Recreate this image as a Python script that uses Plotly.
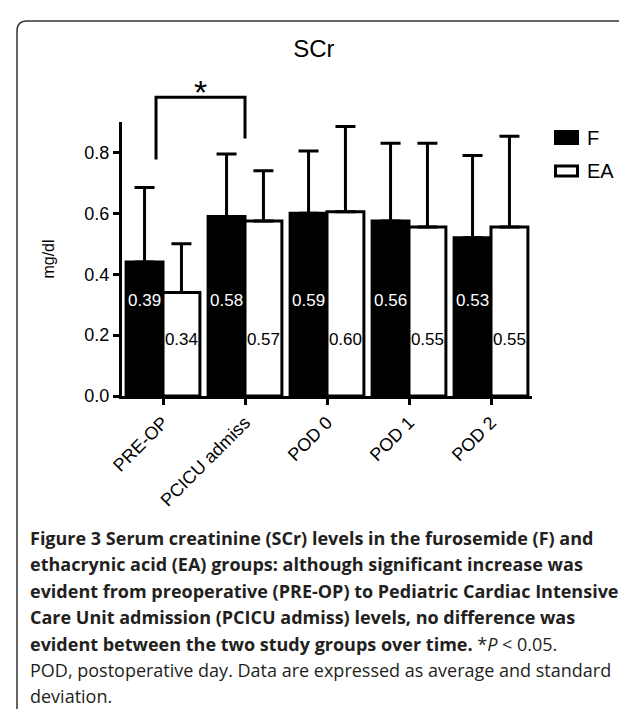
import plotly.graph_objects as go

# ---------------- data ----------------
categories = ["PRE-OP", "PCICU admiss", "POD 0", "POD 1", "POD 2"]
f_mean = [0.44, 0.59, 0.60, 0.575, 0.52]
ea_mean = [0.34, 0.575, 0.605, 0.555, 0.555]
f_sd = [0.245, 0.205, 0.205, 0.255, 0.27]
ea_sd = [0.16, 0.165, 0.28, 0.275, 0.298]
f_labels = ["0.39", "0.58", "0.59", "0.56", "0.53"]
ea_labels = ["0.34", "0.57", "0.60", "0.55", "0.55"]
y_ticks = [0.0, 0.2, 0.4, 0.6, 0.8]

caption_lines = [
    "<b>Figure 3</b> <b>Serum creatinine (SCr) levels in the furosemide (F) and</b>",
    "<b>ethacrynic acid (EA) groups: although significant increase was</b>",
    "<b>evident from preoperative (PRE-OP) to Pediatric Cardiac Intensive</b>",
    "<b>Care Unit admission (PCICU admiss) levels, no difference was</b>",
    "<b>evident between the two study groups over time.</b> *<i>P</i> &lt; 0.05.",
    "POD, postoperative day. Data are expressed as average and standard",
    "deviation.",
]

# ---------------- layout geometry ----------------
W, H = 627, 709
ML, MR, MT, MB = 114, 103, 114, 321
PW, PH = W - ML - MR, H - MT - MB
YMAX = 0.9
FONT = "Arial, Liberation Sans, sans-serif"
CAPFONT = "Open Sans, sans-serif"


def px(xpix):
    return (xpix - ML) / PW


def py(ypix):
    return (H - MB - ypix) / PH


def vy(v):
    return v / YMAX


idx = list(range(len(categories)))
half = 0.225

fig = go.Figure()
fig.add_trace(go.Bar(
    x=idx, y=f_mean, name="F",
    marker=dict(color="black", line=dict(color="black", width=3)),
    error_y=dict(type="data", array=f_sd, arrayminus=[0] * len(f_sd), symmetric=False,
                 color="black", thickness=3, width=10),
    showlegend=False,
))
fig.add_trace(go.Bar(
    x=idx, y=ea_mean, name="EA",
    marker=dict(color="white", line=dict(color="black", width=3)),
    error_y=dict(type="data", array=ea_sd, arrayminus=[0] * len(ea_sd), symmetric=False,
                 color="black", thickness=3, width=10),
    showlegend=False,
))

# value labels inside bars
fig.add_trace(go.Scatter(
    x=[i - half for i in idx], y=[0.308] * len(idx), mode="text", text=f_labels,
    textfont=dict(family=FONT, size=17, color="white"), showlegend=False, hoverinfo="skip",
))
fig.add_trace(go.Scatter(
    x=[i + half for i in idx], y=[0.18] * len(idx), mode="text", text=ea_labels,
    textfont=dict(family=FONT, size=17, color="black"), showlegend=False, hoverinfo="skip",
))

shapes = []
annotations = []

# significance bracket
bx0, bx1 = -0.085, 1.0
shapes.append(dict(type="path", xref="x", yref="paper",
                   path=f"M {bx0},{vy(0.777)} L {bx0},{vy(0.981)} L {bx1},{vy(0.981)} L {bx1},{vy(0.846)}",
                   line=dict(color="black", width=3)))
annotations.append(dict(x=(bx0 + bx1) / 2, y=vy(1.0), xref="x", yref="paper", text="*",
                        showarrow=False, yanchor="middle", xanchor="center",
                        font=dict(family=FONT, size=34, color="black")))

# custom legend
shapes.append(dict(type="rect", xref="paper", yref="paper", x0=px(547), x1=px(570), y0=py(136), y1=py(123),
                   fillcolor="black", line=dict(color="black", width=2)))
shapes.append(dict(type="rect", xref="paper", yref="paper", x0=px(547.5), x1=px(569.5), y0=py(168), y1=py(158),
                   fillcolor="white", line=dict(color="black", width=3)))
annotations.append(dict(x=px(577), y=py(130), xref="paper", yref="paper", text="F",
                        xanchor="left", yanchor="middle",
                        showarrow=False, font=dict(family=FONT, size=20, color="black")))
annotations.append(dict(x=px(577), y=py(163), xref="paper", yref="paper", text="EA",
                        xanchor="left", yanchor="middle",
                        showarrow=False, font=dict(family=FONT, size=20, color="black")))

# frame
r = 10
x0, x1, y0, y1 = 9, 625.5, 13, 715
frame = (f"M {px(x0)},{py(y1)} L {px(x0)},{py(y0 + r)} Q {px(x0)},{py(y0)} {px(x0 + r)},{py(y0)} "
         f"L {px(x1 - r)},{py(y0)} Q {px(x1)},{py(y0)} {px(x1)},{py(y0 + r)} L {px(x1)},{py(y1)}")
shapes.append(dict(type="path", xref="paper", yref="paper", path=frame, line=dict(color="#333333", width=1.5)))

# caption
for k, line in enumerate(caption_lines):
    annotations.append(dict(x=px(21), y=py(530 + k * 26.4), xref="paper", yref="paper", text=line,
                            xanchor="left", yanchor="middle", align="left", showarrow=False,
                            borderpad=0,
                            font=dict(family=CAPFONT, size=18, color="#231f20")))

fig.update_layout(
    width=W, height=H,
    margin=dict(l=ML, r=MR, t=MT, b=MB, pad=0),
    paper_bgcolor="white", plot_bgcolor="white",
    barmode="group", bargap=0.1, bargroupgap=0,
    title=dict(text="SCr", x=px(314), xanchor="center", y=1 - 41 / H, yanchor="middle",
               font=dict(family=FONT, size=24, color="black")),
    shapes=shapes, annotations=annotations,
    font=dict(family=FONT, color="black"),
)
fig.update_xaxes(range=[-0.5, 4.5], tickvals=idx, ticktext=categories, tickangle=-45,
                 showline=True, linecolor="black", linewidth=3, ticks="outside", ticklen=6,
                 tickwidth=3, tickcolor="black", showgrid=False, zeroline=False,
                 tickfont=dict(family=FONT, size=18, color="black"))
fig.update_yaxes(range=[0, YMAX], tickvals=y_ticks, tickformat=".1f",
                 showline=True, linecolor="black", linewidth=3, ticks="outside", ticklen=6,
                 tickwidth=3, tickcolor="black", showgrid=False, zeroline=False,
                 tickfont=dict(family=FONT, size=18, color="black"),
                 title=dict(text="mg/dl", standoff=26, font=dict(family=FONT, size=16, color="black")))

fig.write_html("out.html")
